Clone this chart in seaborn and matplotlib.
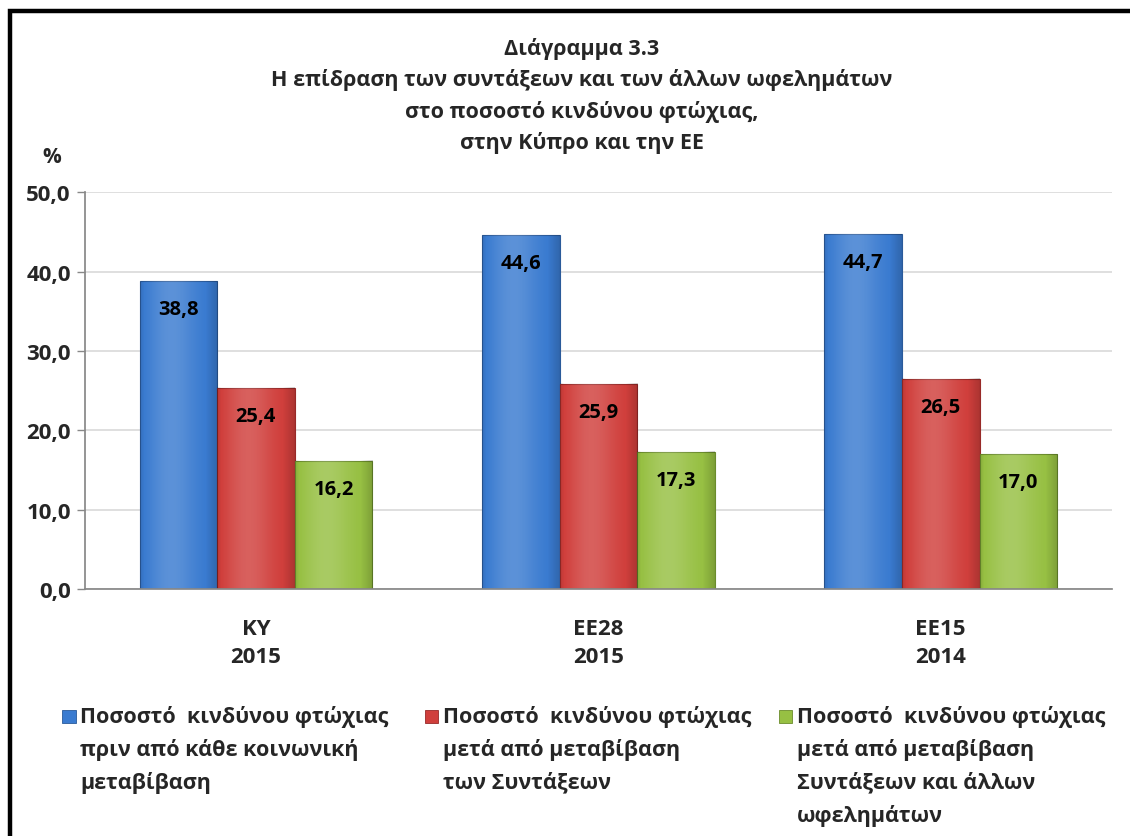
import numpy as np
import pandas as pd
import seaborn as sns
import matplotlib.pyplot as plt
from matplotlib.patches import Rectangle

# Δεδομένα
categories = ['ΚΥ\n2015', 'ΕΕ28\n2015', 'ΕΕ15\n2014']
series = [
    'Ποσοστό  κινδύνου φτώχιας\nπριν από κάθε κοινωνική\nμεταβίβαση',
    'Ποσοστό  κινδύνου φτώχιας\nμετά από μεταβίβαση\nτων Συντάξεων',
    'Ποσοστό  κινδύνου φτώχιας\nμετά από μεταβίβαση\nΣυντάξεων και άλλων\nωφελημάτων',
]
before_all = [38.8, 44.6, 44.7]
after_pensions = [25.4, 25.9, 26.5]
after_all = [16.2, 17.3, 17.0]
yticks = [0, 10, 20, 30, 40, 50]

colors = ['#3a7bd0', '#d03f3c', '#97c043']
dark = ['#2a5a9a', '#982a28', '#6b8c2c']

rows = []
for s, vals in zip(series, [before_all, after_pensions, after_all]):
    for c, v in zip(categories, vals):
        rows.append({'cat': c, 'series': s, 'val': v})
df = pd.DataFrame(rows)

sns.set_theme(style="white")
plt.rcParams['font.family'] = ['Open Sans', 'DejaVu Sans']
plt.rcParams['font.weight'] = 'bold'

fig = plt.figure(figsize=(11.3, 8.37), dpi=100)
ax = fig.add_axes([0.075, 0.295, 0.909, 0.474])

sns.barplot(data=df, x='cat', y='val', hue='series', palette=colors,
            width=0.68, gap=0, ax=ax, legend=False, saturation=1)

# γκραντιέντ για να μοιάζει με το excel
grad = np.linspace(0, 1, 64)
shade = 0.35 * np.exp(-((grad - 0.4) / 0.3) ** 2) - 0.12 * (np.abs(grad - 0.5) * 2) ** 3
for i, cont in enumerate(ax.containers):
    for bar, v in zip(cont, cont.datavalues):
        bar.set_edgecolor(dark[i])
        bar.set_linewidth(0.8)
        x0, w, h = bar.get_x(), bar.get_width(), bar.get_height()
        hl = np.zeros((2, 64, 4))
        hl[..., :3] = 1.0
        hl[..., 3] = np.clip(shade, 0, None) * 0.5
        ax.imshow(hl, extent=[x0, x0 + w, 0, h], aspect='auto',
                  zorder=bar.get_zorder() + 0.2, clip_path=bar, clip_on=True)
        sh = np.zeros((2, 64, 4))
        sh[..., 3] = np.clip(-shade, 0, None) * 1.5
        ax.imshow(sh, extent=[x0, x0 + w, 0, h], aspect='auto',
                  zorder=bar.get_zorder() + 0.2, clip_path=bar, clip_on=True)
        ax.annotate(f'{v:.1f}'.replace('.', ','), (x0 + w / 2, v),
                    xytext=(0, -18), textcoords='offset pixels',
                    ha='center', va='top', fontsize=14.5, fontweight='bold',
                    color='black', zorder=5)

ax.set_xlim(-0.5, 2.5)
ax.set_ylim(0, 50)
ax.set_yticks(yticks)
ax.set_yticklabels([f'{t:.1f}'.replace('.', ',') for t in yticks],
                   fontsize=16, fontweight='bold')
ax.set_xticks(range(len(categories)))
ax.set_xticklabels(categories, fontsize=16, fontweight='bold', linespacing=1.45)
ax.tick_params(axis='x', length=0, pad=21)
ax.tick_params(axis='y', length=6, width=1, color='#888888', left=True, pad=4)
ax.set_xlabel('')
ax.set_ylabel('')
ax.yaxis.grid(True, color='#d9d9d9', linewidth=1.2)
ax.set_axisbelow(True)
for sp in ['top', 'right']:
    ax.spines[sp].set_visible(False)
ax.spines['left'].set_color('#888888')
ax.spines['bottom'].set_color('#888888')

fig.text(0.515, 0.955, 'Διάγραμμα 3.3\nΗ επίδραση των συντάξεων και των άλλων ωφελημάτων\n'
         'στο ποσοστό κινδύνου φτώχιας,\nστην Κύπρο και την ΕΕ',
         ha='center', va='top', fontsize=15.5, fontweight='bold', linespacing=1.56)
fig.text(0.046, 0.812, '%', ha='center', va='center', fontsize=15, fontweight='bold')

# υπόμνημα
leg_x = [0.055, 0.376, 0.689]
for i, (lx, lab) in enumerate(zip(leg_x, series)):
    fig.patches.append(Rectangle((lx, 0.135), 0.012, 0.016,
                                 transform=fig.transFigure, facecolor=colors[i],
                                 edgecolor=dark[i], linewidth=0.6, figure=fig))
    for j, ln in enumerate(lab.split('\n')):
        fig.text(lx + 0.016, 0.143 - j * 0.0393, ln, ha='left', va='center',
                 fontsize=15.5, fontweight='bold')

# πλαίσιο
fig.patches.append(Rectangle((0.009, -0.05), 1.2, 1.036, transform=fig.transFigure,
                             fill=False, edgecolor='black', linewidth=3.2, figure=fig))

fig.savefig('out.png', dpi=100)
